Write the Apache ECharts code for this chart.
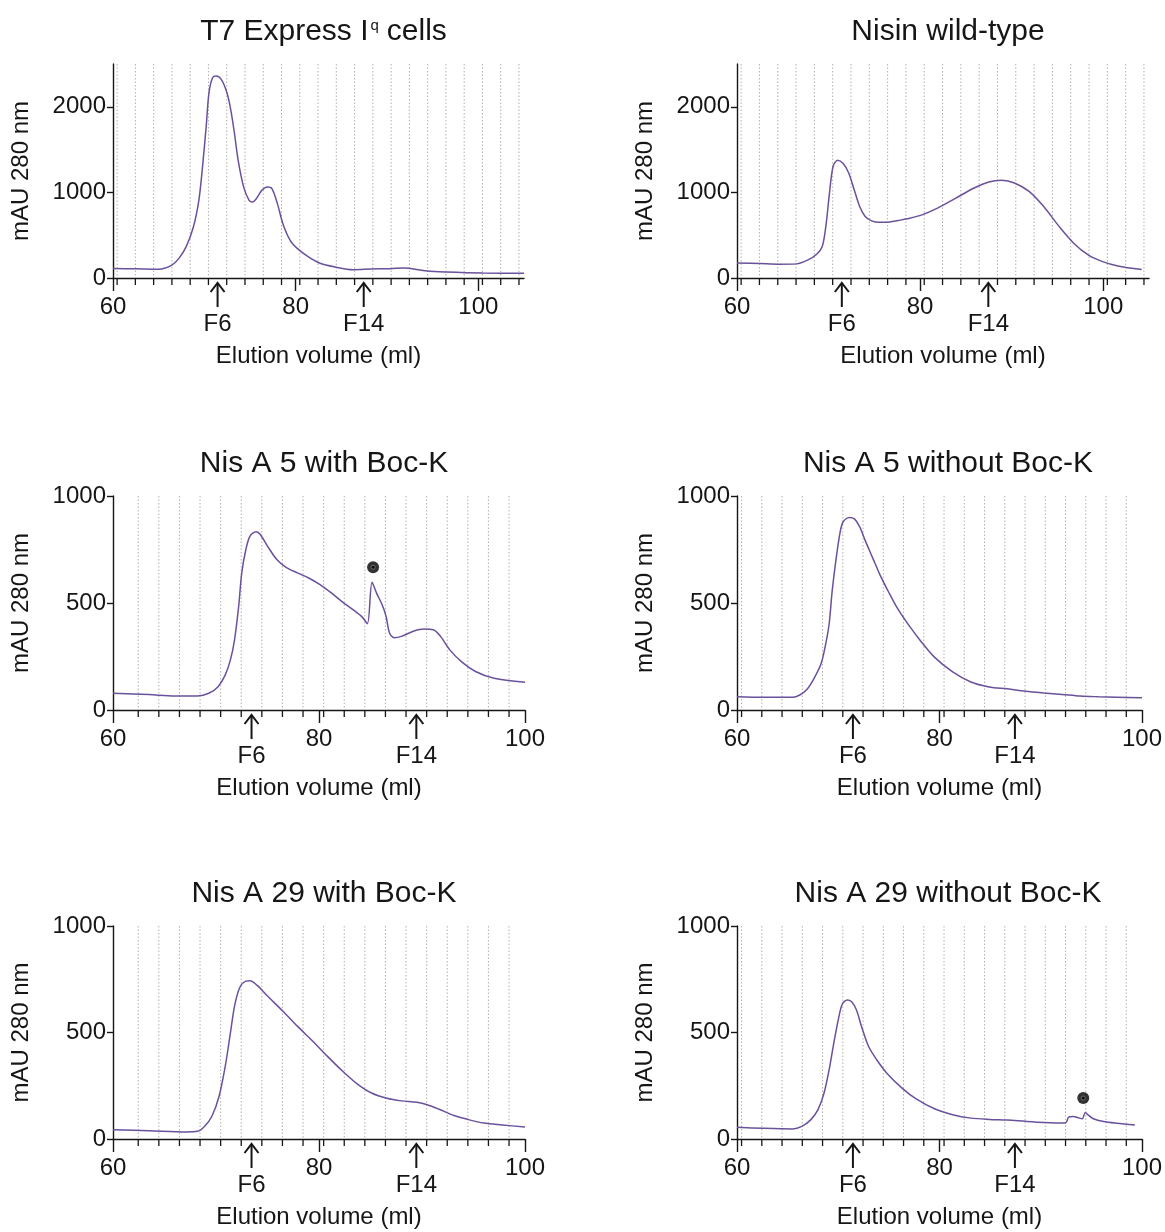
<!DOCTYPE html>
<html>
<head>
<meta charset="utf-8">
<title>Size-exclusion chromatograms</title>
<script src="https://cdn.jsdelivr.net/npm/echarts@6/dist/echarts.min.js"></script>
<style>
  html, body { margin: 0; padding: 0; background: #fff; }
  #chart { width: 1165px; height: 1232px; }
</style>
</head>
<body>
<div id="chart"></div>
<script>
// ---- Elution traces (volume in ml, absorbance in mAU at 280 nm) ----
const t7Volume = [60, 62.5, 65, 66.4, 67.2, 68.0, 68.8, 69.4, 69.8, 70.2, 70.5, 70.9, 71.3, 71.9, 72.5, 72.9, 73.3, 73.7, 74.3, 74.9, 75.3, 75.7, 76.3, 76.9, 77.4, 78.0, 78.6, 79.4, 80.2, 81.4, 82.6, 84.3, 86.3, 88.3, 90.4, 91.8, 92.4, 94.4, 96.5, 100.5, 105];
const t7Abs    = [110, 107, 103, 148, 226, 363, 596, 908, 1298, 1766, 2156, 2339, 2359, 2312, 2156, 1961, 1688, 1376, 1064, 908, 889, 928, 1025, 1064, 1045, 869, 635, 440, 343, 246, 175, 129, 97, 105, 109, 117, 113, 82, 70, 58, 55];

const nisinVolume = [60, 62.5, 64.5, 66.5, 67.7, 68.7, 69.3, 69.7, 70.1, 70.5, 71.0, 71.6, 72.2, 72.8, 73.4, 74.0, 74.7, 75.5, 76.5, 77.6, 78.6, 80.2, 81.9, 83.9, 85.9, 87.5, 88.9, 90.3, 91.9, 93.5, 95.2, 96.8, 98.4, 100.0, 101.6, 104.2];
const nisinAbs    = [176, 169, 161, 165, 208, 278, 365, 600, 992, 1306, 1376, 1337, 1227, 1031, 835, 718, 668, 650, 652, 672, 692, 737, 816, 933, 1051, 1122, 1141, 1110, 1012, 835, 600, 404, 267, 188, 141, 98];

const a5BocVolume = [60, 63.5, 66.0, 68.2, 69.3, 70.2, 70.9, 71.4, 71.8, 72.2, 72.5, 72.9, 73.3, 73.9, 74.3, 75.0, 75.9, 76.8, 77.9, 79.0, 80.1, 81.2, 82.2, 83.3, 84.2, 84.7, 85.15, 85.6, 86.1, 86.5, 86.85, 87.3, 88.0, 89.1, 90.2, 91.1, 91.8, 92.7, 93.8, 95.2, 97.0, 100];
const a5BocAbs    = [78, 72, 66, 66, 78, 109, 164, 234, 328, 484, 641, 750, 813, 833, 820, 766, 703, 667, 641, 617, 586, 547, 508, 469, 434, 403, 597, 545, 495, 440, 360, 338, 344, 367, 378, 375, 344, 281, 227, 180, 148, 130];

const a5NoBocVolume = [60, 62.6, 65.5, 66.2, 66.9, 67.6, 68.3, 68.7, 69.1, 69.4, 69.8, 70.2, 70.5, 71.1, 71.6, 72.1, 72.7, 73.4, 74.1, 75.0, 75.9, 77.0, 78.1, 79.5, 81.3, 83.1, 84.9, 86.7, 88.5, 90.3, 92.1, 93.9, 95.7, 97.5, 100];
const a5NoBocAbs    = [62, 59, 59, 70, 96, 147, 216, 294, 402, 556, 711, 835, 881, 900, 893, 858, 788, 711, 634, 549, 471, 394, 325, 247, 178, 131, 108, 99, 88, 80, 73, 65, 62, 60, 57];

const a29BocVolume = [60, 63.5, 67.1, 68.2, 68.9, 69.6, 70.3, 70.9, 71.4, 71.8, 72.3, 72.9, 73.3, 74.0, 75.0, 76.5, 77.9, 79.4, 80.8, 82.3, 83.7, 85.1, 86.6, 88.0, 89.5, 90.5, 91.6, 93.1, 94.5, 96.0, 97.8, 100];
const a29BocAbs    = [44, 39, 33, 36, 60, 107, 201, 342, 498, 624, 710, 741, 743, 721, 671, 600, 530, 459, 389, 318, 259, 216, 191, 179, 172, 161, 141, 110, 91, 75, 66, 56];

const a29NoBocVolume = [60, 62.6, 65.5, 66.4, 67.3, 68.0, 68.6, 69.1, 69.5, 70.0, 70.4, 70.9, 71.3, 71.8, 72.3, 73.0, 73.8, 74.8, 76.3, 77.7, 79.5, 81.3, 83.1, 84.9, 86.7, 88.5, 90.3, 92.4, 92.6, 92.75, 93.2, 93.7, 94.1, 94.4, 94.7, 95.2, 96.2, 97.5, 99.3];
const a29NoBocAbs    = [55, 50, 47, 59, 91, 138, 216, 325, 434, 559, 634, 653, 645, 606, 528, 434, 372, 309, 239, 188, 142, 114, 98, 92, 89, 83, 78, 75, 85, 103, 106, 100, 95, 125, 112, 95, 82, 74, 66];

// ---- Marked peaks (filled dot above the peak) ----
const a5BocDot    = [[85.25, 667]];
const a29NoBocDot = [[94.2, 192]];

// ---- Fraction boundaries (2 ml fractions) ----
const fractionEdgesLong  = [60.45, 62.45, 64.45, 66.45, 68.45, 70.45, 72.45, 74.45, 76.45, 78.45, 80.45, 82.45, 84.45, 86.45, 88.45, 90.45, 92.45, 94.45, 96.45, 98.45, 100.45, 102.45, 104.45];
const fractionEdgesRight = [60.45, 62.45, 64.45, 66.45, 68.45, 70.45, 72.45, 74.45, 76.45, 78.45, 80.45, 82.45, 84.45, 86.45, 88.45, 90.45, 92.45, 94.45, 96.45, 98.45];
const fractionEdgesLeft  = [62.45, 64.45, 66.45, 68.45, 70.45, 72.45, 74.45, 76.45, 78.45, 80.45, 82.45, 84.45, 86.45, 88.45, 90.45, 92.45, 94.45, 96.45, 98.45];

// ---- Fraction markers (arrow + name) ----
const fractionNames   = ['F6', 'F14'];
const markersEarly    = [71.45, 87.45];
const markersLate     = [73.45, 89.45];

// ---- Axis ticks ----
const xTickValues     = [60, 80, 100];
const yTicksLarge     = [0, 1000, 2000];
const yTicksSmall     = [0, 500, 1000];

const panelTitles = [
  '{m|T7 Express I}{s|q}{m|cells}',
  'Nisin wild-type',
  'Nis A 5 with Boc-K',
  'Nis A 5 without Boc-K',
  'Nis A 29 with Boc-K',
  'Nis A 29 without Boc-K'
];

const FONT = '"Liberation Sans", Arial, Helvetica, sans-serif';
const INK = '#161616';
const TRACE = '#6a519c';

const zip = (xs, ys) => xs.map((x, i) => [x, ys[i]]);

const panels = [
  { grid: { left: 113, top: 64,  width: 411, height: 214 }, xMax: 105, yMax: 2500, yTicks: yTicksLarge, trace: zip(t7Volume, t7Abs),           edges: fractionEdgesLong,  markers: markersEarly },
  { grid: { left: 737, top: 64,  width: 412, height: 214 }, xMax: 105, yMax: 2500, yTicks: yTicksLarge, trace: zip(nisinVolume, nisinAbs),     edges: fractionEdgesLong,  markers: markersEarly },
  { grid: { left: 113, top: 496, width: 412, height: 214 }, xMax: 100, yMax: 1000, yTicks: yTicksSmall, trace: zip(a5BocVolume, a5BocAbs),     edges: fractionEdgesLeft,  markers: markersLate, dot: a5BocDot },
  { grid: { left: 737, top: 496, width: 412, height: 214 }, xMax: 100, yMax: 1000, yTicks: yTicksSmall, trace: zip(a5NoBocVolume, a5NoBocAbs), edges: fractionEdgesRight, markers: markersEarly },
  { grid: { left: 113, top: 926, width: 412, height: 213 }, xMax: 100, yMax: 1000, yTicks: yTicksSmall, trace: zip(a29BocVolume, a29BocAbs),   edges: fractionEdgesLeft,  markers: markersLate },
  { grid: { left: 737, top: 926, width: 412, height: 213 }, xMax: 100, yMax: 1000, yTicks: yTicksSmall, trace: zip(a29NoBocVolume, a29NoBocAbs), edges: fractionEdgesRight, markers: markersEarly, dot: a29NoBocDot }
];

const grids = [], xAxes = [], yAxes = [], titles = [], series = [];

panels.forEach((p, i) => {
  grids.push(Object.assign({ containLabel: false }, p.grid));

  titles.push({
    text: panelTitles[i],
    left: p.grid.left + p.grid.width / 2,
    top: p.grid.top - 54,
    textAlign: 'center',
    textStyle: {
      fontFamily: FONT, fontSize: 30, fontWeight: 'normal', color: INK, lineHeight: 34,
      rich: {
        m: { fontFamily: FONT, fontSize: 30, color: INK, lineHeight: 34 },
        s: { fontFamily: FONT, fontSize: 15, color: INK, lineHeight: 15, verticalAlign: 'top', padding: [3, 8, 0, 2] }
      }
    }
  });

  xAxes.push({
    gridIndex: i, type: 'value', min: 60, max: p.xMax,
    name: 'Elution volume (ml)', nameLocation: 'middle', nameGap: 66,
    nameTextStyle: { fontFamily: FONT, fontSize: 24, color: INK },
    axisLine: { show: true, onZero: false, lineStyle: { color: INK, width: 1.4 } },
    axisTick: { show: true, customValues: xTickValues, length: 13, lineStyle: { color: INK, width: 1.4 } },
    axisLabel: { customValues: xTickValues, formatter: v => String(v), fontFamily: FONT, fontSize: 24, color: INK, margin: 17 },
    splitLine: { show: false }
  });

  yAxes.push({
    gridIndex: i, type: 'value', min: 0, max: p.yMax,
    name: 'mAU 280 nm', nameLocation: 'middle', nameGap: 80,
    nameTextStyle: { fontFamily: FONT, fontSize: 24, color: INK },
    axisLine: { show: true, onZero: false, lineStyle: { color: INK, width: 1.4 } },
    axisTick: { show: true, customValues: p.yTicks, length: 6, lineStyle: { color: INK, width: 1.4 } },
    axisLabel: { customValues: p.yTicks, formatter: v => String(v), fontFamily: FONT, fontSize: 24, color: INK, margin: 7 },
    splitLine: { show: false }
  });

  // dotted fraction boundaries with a short tick under the axis
  series.push({
    type: 'custom', xAxisIndex: i, yAxisIndex: i, clip: false, silent: true, z: 1,
    data: p.edges.map(v => [v]),
    renderItem: (params, api) => {
      const x = api.value(0);
      const top = api.coord([x, p.yMax]);
      const bot = api.coord([x, 0]);
      return {
        type: 'group',
        children: [
          { type: 'line', shape: { x1: top[0], y1: top[1], x2: bot[0], y2: bot[1] },
            style: { stroke: '#b0b0b0', lineWidth: 1, lineDash: [1.5, 2] } },
          { type: 'line', shape: { x1: bot[0], y1: bot[1], x2: bot[0], y2: bot[1] + 7 },
            style: { stroke: INK, lineWidth: 1.3 } }
        ]
      };
    }
  });

  // fraction arrows with names
  series.push({
    type: 'custom', xAxisIndex: i, yAxisIndex: i, clip: false, silent: true, z: 5,
    data: p.markers.map(v => [v]),
    renderItem: (params, api) => {
      const c = api.coord([api.value(0), 0]);
      const x = c[0], y = c[1];
      return {
        type: 'group',
        children: [
          { type: 'polyline', shape: { points: [[x - 7, y + 14], [x, y + 5], [x + 7, y + 14]] },
            style: { stroke: INK, lineWidth: 2, fill: null } },
          { type: 'line', shape: { x1: x, y1: y + 5, x2: x, y2: y + 29 },
            style: { stroke: INK, lineWidth: 2 } },
          { type: 'text', x: x, y: y + 46,
            style: { text: fractionNames[params.dataIndex], fontFamily: FONT, fontSize: 24, fill: INK,
                     align: 'center', verticalAlign: 'middle' } }
        ]
      };
    }
  });

  series.push({
    type: 'line', xAxisIndex: i, yAxisIndex: i, data: p.trace, z: 3,
    showSymbol: false, smooth: 0.3, silent: true,
    lineStyle: { color: TRACE, width: 1.5 }
  });

  if (p.dot) {
    series.push({
      type: 'scatter', xAxisIndex: i, yAxisIndex: i, data: p.dot, z: 6, silent: true,
      symbol: 'circle', symbolSize: 12, itemStyle: { color: '#000' }
    });
    series.push({
      type: 'scatter', xAxisIndex: i, yAxisIndex: i, data: p.dot, z: 7, silent: true,
      symbol: 'circle', symbolSize: 4, itemStyle: { color: '#000', borderColor: '#9a9a9a', borderWidth: 0.8 }
    });
  }
});

const chart = echarts.init(document.getElementById('chart'), null, { renderer: 'canvas' });
chart.setOption({
  backgroundColor: '#fff',
  animation: false,
  title: titles,
  grid: grids,
  xAxis: xAxes,
  yAxis: yAxes,
  series: series
});
</script>
</body>
</html>
